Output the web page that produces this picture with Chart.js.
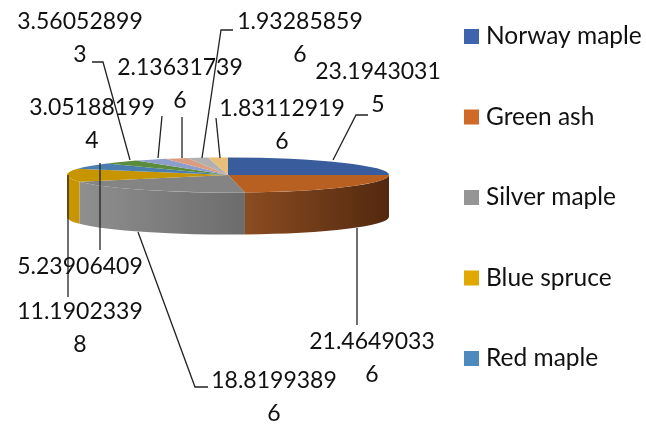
<!DOCTYPE html>
<html>
<head>
<meta charset="utf-8">
<title>Tree species share</title>
<script src="https://cdn.jsdelivr.net/npm/chart.js@4"></script>
<style>
  body { margin: 0; background: #fff; }
  canvas { display: block; }
</style>
</head>
<body>
<canvas id="speciesPie" width="646" height="425"></canvas>
<script>
const categories = ['Norway maple', 'Green ash', 'Silver maple', 'Blue spruce', 'Red maple'];
const shares = [23.19430315, 21.46490336, 18.81993896, 11.19023398, 5.23906409,
  3.560528993, 3.051881994, 2.136317396, 1.932858596, 1.831129196];

const topColors = ['#385c9c', '#b85f22', '#848484', '#c69500', '#4a7eb0',
  '#5b8c3c', '#8c9fcc', '#dc9c80', '#b0b0b0', '#e8be78'];
const legendColors = ['#3d64ac', '#d06a28', '#959595', '#e0a800', '#4f8abf'];
// left and right colour of the visible rim, one pair per slice
const wallColors = [['#2c4778', '#2c4778'], ['#8b4c21', '#52290f'], ['#8f8f8f', '#6c6c6c'],
  ['#c69500', '#c69500'], ['#3a628a', '#3a628a'], ['#466c2e', '#466c2e'], ['#6c7b9e', '#6c7b9e'],
  ['#aa7862', '#aa7862'], ['#888888', '#888888'], ['#b3935c', '#b3935c']];

// where each value label sits (centre x, first line y) and its leader line
const labelPlacement = [
  { x: 378, y: 72, leader: [[368, 115], [356, 115], [333, 160]] },
  { x: 372, y: 342, leader: [[357, 228], [357, 325]] },
  { x: 274, y: 381, leader: [[138, 232], [195, 387], [208, 387]] },
  { x: 80, y: 312, leader: [[68, 175], [68, 297]] },
  { x: 80, y: 267, leader: [[100, 163], [100, 250]] },
  { x: 80, y: 22, leader: [[92, 62], [103, 62], [130, 160]] },
  { x: 92, y: 108, leader: [[162, 116], [158, 158]] },
  { x: 180, y: 68, leader: [[182, 117], [182, 158]] },
  { x: 300, y: 22, leader: [[233, 30], [221, 30], [202, 158]] },
  { x: 282, y: 109, leader: [[216, 118], [220, 158]] }
];

const FONT = 'Lato, "Open Sans", sans-serif';
const PIE = { x: 228, y: 175, radius: 161, squash: 0.109, depth: 42 };

// the pie is flattened and given a rim so it reads as a 3D disc
const tiltPlugin = {
  id: 'tilt',
  beforeDatasetDraw(chart) {
    const ctx = chart.ctx;
    const arcs = chart.getDatasetMeta(0).data;
    const ry = PIE.radius * PIE.squash;

    arcs.forEach((arc, i) => {
      const from = Math.max(arc.startAngle, 0);
      const to = Math.min(arc.endAngle, Math.PI);
      if (to <= from) return;
      const x1 = PIE.x + PIE.radius * Math.cos(to);
      const x2 = PIE.x + PIE.radius * Math.cos(from);
      const fill = ctx.createLinearGradient(x1, 0, x2, 0);
      fill.addColorStop(0, wallColors[i][0]);
      fill.addColorStop(1, wallColors[i][1]);
      ctx.beginPath();
      ctx.ellipse(PIE.x, PIE.y, PIE.radius, ry, 0, from, to);
      ctx.ellipse(PIE.x, PIE.y + PIE.depth, PIE.radius, ry, 0, to, from, true);
      ctx.closePath();
      ctx.fillStyle = fill;
      ctx.fill();
    });

    ctx.save();
    ctx.translate(PIE.x, PIE.y);
    ctx.scale(1, PIE.squash);
    ctx.translate(-arcs[0].x, -arcs[0].y);
  },
  afterDatasetDraw(chart) {
    chart.ctx.restore();
  },
  afterDatasetsDraw(chart) {
    const ctx = chart.ctx;
    ctx.save();
    ctx.strokeStyle = '#222';
    ctx.lineWidth = 1.3;
    ctx.fillStyle = '#111';
    ctx.font = '23px ' + FONT;
    ctx.textAlign = 'center';
    ctx.textBaseline = 'middle';
    shares.forEach((value, i) => {
      const place = labelPlacement[i];
      ctx.beginPath();
      place.leader.forEach(([x, y], n) => n ? ctx.lineTo(x, y) : ctx.moveTo(x, y));
      ctx.stroke();
      // long values wrap after ten characters
      const text = String(value);
      ctx.fillText(text.slice(0, 10), place.x, place.y);
      if (text.length > 10) ctx.fillText(text.slice(10), place.x, place.y + 33);
    });

    // legend rows are further apart than the built-in legend can fit in this height
    ctx.font = '24.5px ' + FONT;
    ctx.textAlign = 'left';
    categories.forEach((name, i) => {
      const rowY = 36.5 + i * 80.5;
      ctx.fillStyle = legendColors[i];
      ctx.fillRect(464, rowY - 7.5, 15, 15);
      ctx.fillStyle = '#111';
      ctx.fillText(name, 486, rowY);
    });
    ctx.restore();
  }
};

new Chart(document.getElementById('speciesPie'), {
  type: 'pie',
  data: {
    labels: categories,
    datasets: [{
      data: shares,
      backgroundColor: topColors,
      borderWidth: 0,
      radius: PIE.radius,
      clip: false
    }]
  },
  options: {
    responsive: false,
    animation: false,
    plugins: {
      tooltip: { enabled: false },
      legend: { display: false }
    }
  },
  plugins: [tiltPlugin]
});
</script>
</body>
</html>
